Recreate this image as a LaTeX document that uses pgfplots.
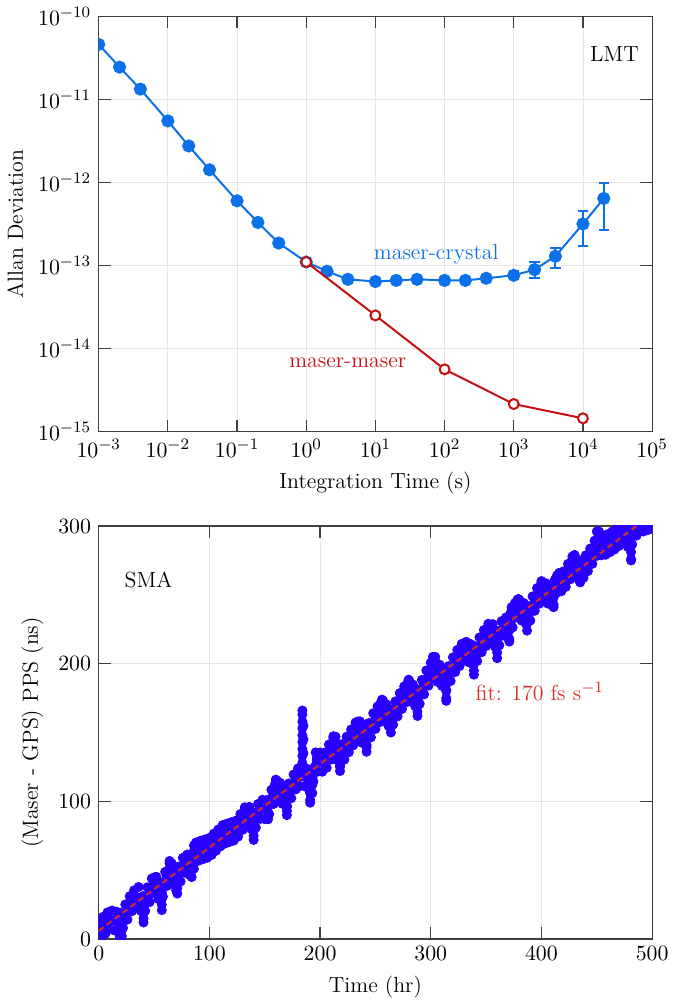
\documentclass[border=0pt]{standalone}
\usepackage{pgfplots}
\pgfplotsset{compat=1.18}
\definecolor{lmtblue}{RGB}{12,112,232}
\definecolor{lmtred}{RGB}{196,16,16}
\definecolor{smablue}{RGB}{40,0,255}
\definecolor{fitred}{RGB}{214,44,40}
\definecolor{axgray}{RGB}{64,64,64}
\pgfplotsset{
  panel/.style={
    scale only axis, width=278pt,
    axis line style={axgray, line width=0.6pt},
    every tick/.style={axgray, line width=0.6pt},
    major tick length=6pt,
    tick align=inside,
    grid=major,
    grid style={black!10, line width=0.4pt},
    clip marker paths=true,
  }
}
\begin{document}
\fontsize{11}{13}\selectfont
\begin{tikzpicture}
% top panel: Allan deviation at LMT
\begin{axis}[panel, at={(0pt,255pt)}, anchor=south west, height=208.5pt,
  xmode=log, ymode=log,
  xmin=1e-3, xmax=1e5, ymin=1e-15, ymax=1e-10,
  xtick={1e-3,1e-2,1e-1,1,1e1,1e2,1e3,1e4,1e5},
  ytick={1e-15,1e-14,1e-13,1e-12,1e-11,1e-10},
  xminorticks=false, yminorticks=false,
  xlabel={Integration Time (s)}, ylabel={Allan Deviation}]
\addplot[draw=none, mark=none, forget plot,
  error bars/.cd, y dir=both, y explicit,
  error bar style={draw=lmtblue, line width=1pt},
  error mark options={draw=lmtblue, rotate=90, mark size=2.6pt, line width=1pt}]
  coordinates {(1000,7.6e-14) += (0,0.9e-14) -= (0,0.8e-14)
  (2000,8.9e-14) += (0,2.1e-14) -= (0,1.8e-14)
  (4000,1.29e-13) += (0,3.3e-14) -= (0,3.6e-14)
  (10000,3.16e-13) += (0,1.34e-13) -= (0,1.46e-13)
  (20000,6.4e-13) += (0,3.4e-13) -= (0,3.7e-13)};
\addplot[lmtblue, line width=1pt, mark=*, mark size=2.8pt, mark options={fill=lmtblue, draw=lmtblue}]
  coordinates {(1e-3,4.6e-11) (2e-3,2.45e-11) (4e-3,1.33e-11) (1e-2,5.5e-12) (2e-2,2.75e-12)
  (4e-2,1.42e-12) (0.1,6.0e-13) (0.2,3.3e-13) (0.4,1.86e-13) (1,1.1e-13) (2,8.5e-14) (4,6.8e-14)
  (10,6.4e-14) (20,6.6e-14) (40,6.8e-14) (100,6.6e-14) (200,6.6e-14) (400,7.0e-14)
  (1000,7.6e-14) (2000,8.9e-14) (4000,1.29e-13) (10000,3.16e-13) (20000,6.4e-13)};
\addplot[lmtred, line width=1pt, mark=*, mark size=2.5pt, mark options={fill=white, draw=lmtred, line width=1pt}]
  coordinates {(1,1.1e-13) (10,2.5e-14) (100,5.6e-15) (1000,2.14e-15) (10000,1.44e-15)};
\node[anchor=center] at (rel axis cs:0.932,0.909) {LMT};
\node[anchor=center, text=lmtblue] at (rel axis cs:0.610,0.427) {maser-crystal};
\node[anchor=center, text=lmtred] at (rel axis cs:0.450,0.165) {maser-maser};
\end{axis}
% bottom panel: maser - GPS PPS at SMA
\begin{axis}[panel, at={(0pt,0pt)}, anchor=south west, height=207.5pt,
  xmin=0, xmax=500, ymin=0, ymax=300,
  xtick={0,100,200,300,400,500}, ytick={0,100,200,300},
  xlabel={Time (hr)}, ylabel={(Maser - GPS) PPS (ns)}]
\addplot[only marks, mark=*, mark size=2.3pt, smablue, mark options={fill=smablue, draw=smablue}]
  coordinates {
  (0,13.0) (2,0.6) (4,16.2) (6,3.8) (8,19.4) (10,7.1) (12,20.7) (14,6.3) (16,19.9) (18,5.5)
  (20,19.1) (22,8.1) (24,25.1) (26,14.1) (28,31.1) (30,20.2) (32,35.4) (34,22.6) (36,37.8) (38,20.5)
  (40,31.2) (42,20.4) (44,37.6) (46,26.8) (48,44.0) (50,33.3) (52,45.2) (54,29.0) (56,40.9) (58,30.9)
  (60,48.8) (62,38.7) (64,56.7) (66,40.2) (68,51.8) (70,35.4) (72,52.6) (74,41.8) (76,59.0) (78,48.2)
  (80,61.4) (82,46.6) (84,59.8) (86,51.0) (88,70.2) (90,56.8) (92,71.4) (94,57.9) (96,72.4) (98,59.0)
  (100,73.5) (102,61.0) (104,76.6) (106,64.1) (108,79.6) (110,67.3) (112,82.8) (114,69.3) (116,83.9) (118,70.4)
  (120,84.9) (122,71.5) (124,86.0) (126,74.4) (128,90.8) (130,79.3) (132,95.7) (134,84.1) (136,96.0) (138,79.8)
  (140,91.7) (142,80.9) (144,98.1) (146,87.3) (148,101.2) (150,87.1) (152,101.0) (154,90.7) (156,108.4) (158,98.1)
  (160,115.8) (162,100.6) (164,113.4) (166,98.2) (168,111.0) (170,95.9) (172,113.1) (174,102.3) (176,119.5) (178,108.7)
  (180,123.9) (182,111.1) (184,126.3) (186,111.0) (188,123.7) (190,108.5) (192,121.2) (194,114.4) (196,135.6) (198,121.6)
  (200,135.5) (202,121.5) (204,135.4) (206,124.4) (208,141.3) (210,130.4) (212,147.3) (214,130.5) (216,141.7) (218,124.9)
  (220,141.6) (222,130.3) (224,147.0) (226,135.7) (228,152.2) (230,140.7) (232,157.2) (234,145.6) (236,158.1) (238,142.5)
  (240,155.0) (242,139.4) (244,156.9) (246,146.5) (248,164.0) (250,152.6) (252,169.0) (254,157.5) (256,173.9) (258,158.1)
  (260,170.3) (262,154.5) (264,166.7) (266,155.7) (268,172.6) (270,161.7) (272,178.6) (274,167.1) (276,183.5) (278,172.0)
  (280,188.4) (282,172.6) (284,184.8) (286,169.0) (288,181.2) (290,170.8) (292,188.2) (294,177.7) (296,195.1) (298,184.0)
  (300,200.8) (302,189.7) (304,202.2) (306,186.8) (308,199.3) (310,183.9) (312,196.5) (314,181.0) (316,198.2) (318,187.4)
  (320,204.6) (322,193.8) (324,210.0) (326,198.2) (328,214.4) (330,202.7) (332,215.9) (334,201.1) (336,214.3) (338,199.5)
  (340,212.7) (342,201.9) (344,219.1) (346,208.3) (348,224.5) (350,212.8) (352,229.0) (354,217.2) (356,228.7) (358,212.3)
  (360,223.8) (362,213.3) (364,230.9) (366,220.4) (368,233.6) (370,218.9) (372,236.6) (374,226.3) (376,244.0) (378,233.7)
  (380,246.5) (382,231.3) (384,244.1) (386,228.9) (388,241.7) (390,231.3) (392,248.9) (394,238.4) (396,254.9) (398,243.5)
  (400,260.0) (402,245.2) (404,258.4) (406,243.6) (408,256.8) (410,242.1) (412,260.8) (414,251.5) (416,266.0) (418,252.6)
  (420,267.1) (422,255.8) (424,272.5) (426,261.2) (428,277.9) (430,263.0) (432,275.9) (434,260.9) (436,273.8) (438,262.3)
  (440,278.7) (442,267.2) (444,283.6) (446,272.5) (448,289.3) (450,278.3) (452,292.5) (454,278.7) (456,292.9) (458,279.1)
  (460,294.1) (462,281.0) (464,296.0) (466,282.9) (468,298.1) (470,285.4) (472,300.6) (474,287.8) (476,300.3) (478,284.9)
  (480,297.4) (482,286.6) (484,303.8) (486,293.0) (488,306.7) (490,297.5) (492,296.0) (494,298.5) (496,297.0) (498,299.0)
  (1,6.8) (3,8.4) (5,10.0) (7,11.6) (9,13.3) (11,13.9) (13,13.5) (15,13.1) (17,12.7) (19,12.3)
  (21,13.6) (23,16.6) (25,19.6) (27,22.6) (29,25.7) (31,27.8) (33,29.0) (35,30.2) (37,29.2) (39,25.9)
  (41,25.8) (43,29.0) (45,32.2) (47,35.4) (49,38.7) (51,39.3) (53,37.1) (55,35.0) (57,35.9) (59,39.9)
  (61,43.8) (63,47.7) (65,48.5) (67,46.0) (69,43.6) (71,44.0) (73,47.2) (75,50.4) (77,53.6) (79,54.8)
  (81,54.0) (83,53.2) (85,55.4) (87,60.6) (89,63.5) (91,64.1) (93,64.7) (95,65.2) (97,65.7) (99,66.3)
  (101,67.3) (103,68.8) (105,70.4) (107,71.9) (109,73.5) (111,75.1) (113,76.1) (115,76.6) (117,77.2) (119,77.7)
  (121,78.2) (123,78.8) (125,80.2) (127,82.6) (129,85.1) (131,87.5) (133,89.9) (135,90.1) (137,87.9) (139,85.8)
  (141,86.3) (143,89.5) (145,92.7) (147,94.3) (149,94.2) (151,94.1) (153,95.9) (155,99.6) (157,103.3) (159,107.0)
  (161,108.2) (163,107.0) (165,105.8) (167,104.6) (169,103.5) (171,104.5) (173,107.7) (175,110.9) (177,114.1) (179,116.3)
  (181,117.5) (183,118.7) (185,118.7) (187,117.4) (189,116.1) (191,114.9) (193,117.8) (195,125.0) (197,128.6) (199,128.6)
  (201,128.5) (203,128.5) (205,129.9) (207,132.9) (209,135.9) (211,138.9) (213,138.9) (215,136.1) (217,133.3) (219,133.3)
  (221,136.0) (223,138.7) (225,141.4) (227,144.0) (229,146.5) (231,149.0) (233,151.4) (235,151.9) (237,150.3) (239,148.8)
  (241,147.2) (243,148.2) (245,151.7) (247,155.3) (249,158.3) (251,160.8) (253,163.3) (255,165.7) (257,166.0) (259,164.2)
  (261,162.4) (263,160.6) (265,161.2) (267,164.2) (269,167.2) (271,170.2) (273,172.9) (275,175.3) (277,177.8) (279,180.2)
  (281,180.5) (283,178.7) (285,176.9) (287,175.1) (289,176.0) (291,179.5) (293,183.0) (295,186.4) (297,189.6) (299,192.4)
  (301,195.3) (303,196.0) (305,194.5) (307,193.1) (309,191.6) (311,190.2) (313,188.8) (315,189.6) (317,192.8) (319,196.0)
  (321,199.2) (323,201.9) (325,204.1) (327,206.3) (329,208.6) (331,209.3) (333,208.5) (335,207.7) (337,206.9) (339,206.1)
  (341,207.3) (343,210.5) (345,213.7) (347,216.4) (349,218.7) (351,220.9) (353,223.1) (355,223.0) (357,220.5) (359,218.1)
  (361,218.6) (363,222.1) (365,225.7) (367,227.0) (369,226.3) (371,227.8) (373,231.5) (375,235.2) (377,238.9) (379,240.1)
  (381,238.9) (383,237.7) (385,236.5) (387,235.3) (389,236.5) (391,240.1) (393,243.7) (395,246.7) (397,249.2) (399,251.8)
  (401,252.6) (403,251.8) (405,251.0) (407,250.2) (409,249.5) (411,251.5) (413,256.2) (415,258.8) (417,259.3) (419,259.9)
  (421,261.5) (423,264.2) (425,266.9) (427,269.6) (429,270.5) (431,269.5) (433,268.4) (435,267.4) (437,268.1) (439,270.5)
  (441,273.0) (443,275.4) (445,278.1) (447,280.9) (449,283.8) (451,285.4) (453,285.6) (455,285.8) (457,286.0) (459,286.6)
  (461,287.6) (463,288.5) (465,289.5) (467,290.5) (469,291.8) (471,293.0) (473,294.2) (475,294.1) (477,292.6) (479,291.2)
  (481,292.0) (483,295.2) (485,298.4) (487,299.9) (489,298.0) (491,296.5) (493,297.0) (495,298.0) (497,298.5) (499,298.0)
  (19,11) (19,6) (19,2) (21,12) (21,7) (21,2)
  (40.5,24) (40.5,19) (40.5,15) (40.5,12)
  (57,34) (57,29) (57,25) (57,21)
  (71,42) (71,37) (71,33)
  (84,50) (84,45)
  (140,84) (140,79) (140,75) (140,72)
  (153,92) (153,87)
  (170,102) (170,97) (170,93) (170,90)
  (191,116) (191,111) (191,106) (191,101) (191,99) (193,117) (193,112) (193,106)
  (218,131) (218,126) (218,122)
  (242,146) (242,141) (242,136)
  (264,159) (264,154) (264,150)
  (288,174) (288,169) (288,165) (288,162)
  (314,190) (314,185) (314,180) (314,175) (314,173)
  (339,205) (339,200) (339,195) (339,192)
  (360,218) (360,213) (360,208) (360,204)
  (371,224) (371,218) (371,216)
  (387,234) (387,229) (387,224)
  (411,248) (411,243) (411,241)
  (435,263) (435,259)
  (481,291) (481,286) (481,281) (481,276) (481,275)
  (51,42) (51,45) (52,45)
  (64,51) (64,55) (66,51) (66,55)
  (86,64) (86,68) (88,64) (88,67)
  (135,93) (135,95)
  (159,108) (159,112) (161,108) (161,114) (161,115)
  (184,123) (184,128) (184,133) (184,138) (184,143) (184,148) (184,153) (184,158) (184,163) (184,166)
  (185,125) (185,135) (185,145) (185,155)
  (197,131) (197,134)
  (212,141) (212,146) (214,141) (214,147)
  (234,153) (234,158)
  (255,167) (255,172) (257,167) (257,173)
  (279,181) (279,186) (281,181) (281,187)
  (302,195) (302,200) (302,205) (304,195) (304,200) (304,205)
  (330,211) (330,213)
  (354,226) (354,228)
  (373,237) (373,241)
  (378,241) (378,246) (379,247)
  (400,254) (400,259)
  (414,262) (414,264)
  (428,271) (428,276) (430,272) (430,279)
  (450,285) (450,290) (450,296) (452,285) (452,291) (452,296)
  (466,295) (468,297) (472,300) (476,300)
  };
\addplot[fitred, line width=1pt, dash pattern=on 3pt off 2pt]
  coordinates {(0,6) (486,300)};
\node[anchor=center] at (rel axis cs:0.090,0.870) {SMA};
\node[anchor=center, text=fitred] at (rel axis cs:0.797,0.598) {fit: 170 fs s$^{-1}$};
\end{axis}
\path (-46.5pt,-32pt) rectangle (300.5pt,470.5pt);
\end{tikzpicture}
\end{document}
